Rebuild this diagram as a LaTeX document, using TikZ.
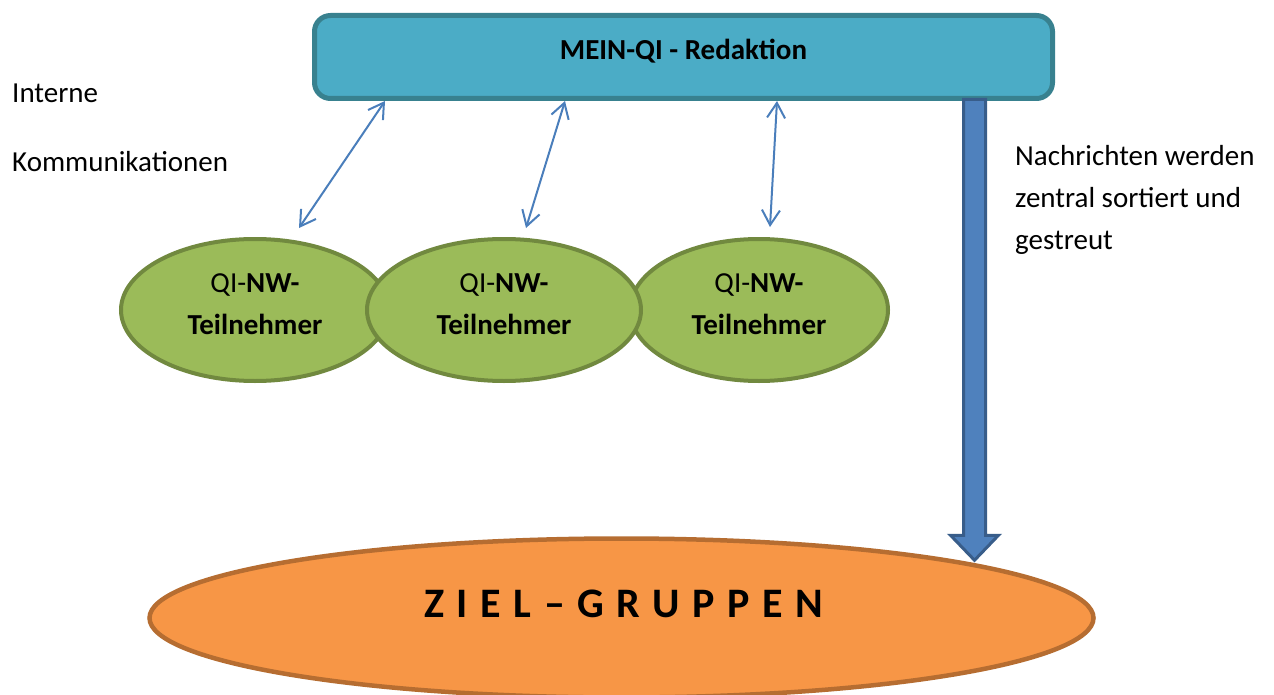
\documentclass[tikz,border=0pt]{standalone}
\usepackage{fontspec}
\setmainfont{Carlito}
\usetikzlibrary{arrows.meta, shapes.geometric, calc}

\definecolor{redakfill}{HTML}{4BACC6}
\definecolor{redakline}{HTML}{38818F}
\definecolor{tnfill}{HTML}{9BBB59}
\definecolor{tnline}{HTML}{71893F}
\definecolor{zgfill}{HTML}{F79646}
\definecolor{zgline}{HTML}{B66D31}
\definecolor{pfeilfill}{HTML}{4F81BD}
\definecolor{pfeilline}{HTML}{385D8A}
\definecolor{kommblau}{HTML}{4A7EBB}

\newcommand{\grund}{\fontsize{29}{42}\selectfont}

\begin{document}
\begin{tikzpicture}[x=1pt, y=-1pt,
    txt/.style={inner sep=0pt, font=\grund},
    redak/.style={draw=redakline, fill=redakfill, line width=5pt, rounded corners=16pt,
        minimum width=738pt, minimum height=83pt, inner sep=0pt,
        text height=20pt, text depth=14pt, font=\grund\bfseries},
    tn/.style={ellipse, draw=tnline, fill=tnfill, line width=4pt, inner sep=0pt,
        minimum height=142pt, align=center, font=\grund},
    zg/.style={ellipse, draw=zgline, fill=zgfill, line width=4.5pt, inner sep=0pt,
        minimum width=944pt, minimum height=159pt,
        font=\fontsize{42}{50}\selectfont\bfseries\addfontfeature{LetterSpace=30}},
    komm/.style={draw=kommblau, line width=2pt,
        {Straight Barb[length=15pt, width=18pt]}-{Straight Barb[length=15pt, width=18pt]}},
    pfeil/.style={draw=pfeilline, fill=pfeilfill, line width=3pt}]
    \useasboundingbox (0,0) rectangle (1274,695);

    % Zielgruppen unten
    \node[zg] (zg) at (621.5,618) {\hspace*{4pt}ZIEL–GRUPPEN\rule[-29pt]{0pt}{0pt}};

    % Teilnehmer (der mittlere liegt oben)
    \foreach \n/\x/\w in {1/255/268, 3/759/258, 2/504/274} {
        \node[tn, minimum width=\w pt] (tn\n) at (\x,310)
            {QI-\textbf{NW-}\\\textbf{Teilnehmer}\rule[-12pt]{0pt}{0pt}};
    }

    % Redaktion oben
    \node[redak] (redak) at (683.5,57) {MEIN-QI - Redaktion};

    % Verteilung nach unten
    \coordinate (pfeilA) at ($(redak.south east)+(-80.5,-1.5)$);
    \coordinate (pfeilB) at ($(zg.north)+(353,24)$);
    \draw[pfeil] ($(pfeilA)+(-11,0)$) -- ($(pfeilB)+(-11,-25)$) -- ($(pfeilB)+(-24,-25)$)
        -- (pfeilB) -- ($(pfeilB)+(24,-25)$) -- ($(pfeilB)+(11,-25)$) -- ($(pfeilA)+(11,0)$) -- cycle;

    % Interne Kommunikation
    \foreach \n/\dx/\ex/\ey in {1/73/44/-9, 2/253/22/-9, 3/465/11/-10} {
        \draw[komm] ($(redak.south west)+(\dx,0)$) -- ($(tn\n.north)+(\ex,\ey)$);
    }

    % Beschriftungen
    \node[txt, anchor=base west] (intern) at (12,103) {Interne};
    \node[txt, anchor=base west] (kommu) at (12,172) {Kommunikationen};
    \node[txt, anchor=north west, align=left] (streu) at (1015,145)
        {Nachrichten werden\\zentral sortiert und\\gestreut};
\end{tikzpicture}
\end{document}
